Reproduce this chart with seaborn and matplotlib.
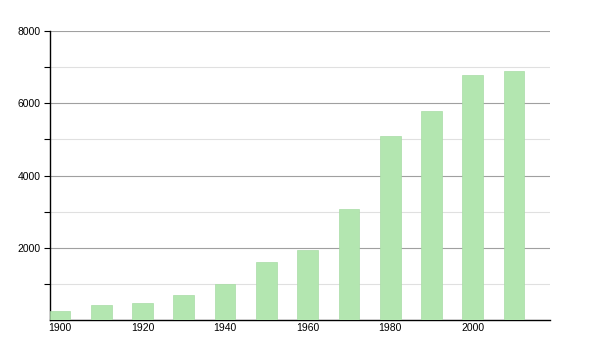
import matplotlib
matplotlib.use("Agg")
import matplotlib.pyplot as plt
import seaborn as sns
import pandas as pd
from matplotlib.ticker import FixedLocator

years = [1900, 1910, 1920, 1930, 1940, 1950, 1960, 1970, 1980, 1990, 2000, 2010]
population = [240, 415, 480, 690, 1000, 1600, 1940, 3070, 5090, 5790, 6780, 6890]
x_ticks = [1900, 1920, 1940, 1960, 1980, 2000]
y_ticks = [2000, 4000, 6000, 8000]
y_minor = [1000, 3000, 5000, 7000]

sns.set_style("white")
plt.rcParams['font.family'] = ['Liberation Sans', 'DejaVu Sans']

df = pd.DataFrame({"year": years, "pop": population})

fig = plt.figure(figsize=(6, 3.5), dpi=100)
ax = fig.add_axes([50/600, 30/350, 500/600, 289/350])

sns.barplot(data=df, x="year", y="pop", native_scale=True, width=0.5,
            color="#b3e6b0", edgecolor="#a8dca5", linewidth=0.5, saturation=1,
            ax=ax, zorder=3)

ax.set_xlim(1897.6, 2018.7)
ax.set_ylim(0, 8000)
ax.yaxis.set_major_locator(FixedLocator(y_ticks))
ax.yaxis.set_minor_locator(FixedLocator(y_minor))
ax.xaxis.set_major_locator(FixedLocator(x_ticks))
ax.grid(axis="y", which="major", color="#a0a0a0", linewidth=0.8, zorder=0)
ax.grid(axis="y", which="minor", color="#e0e0e0", linewidth=0.8, zorder=0)
ax.set_axisbelow(True)

for s in ["top", "right"]:
    ax.spines[s].set_visible(False)
for s in ["left", "bottom"]:
    ax.spines[s].set_color("black")
    ax.spines[s].set_linewidth(1.0)

ax.tick_params(axis="y", which="major", length=4, width=0.8, color="black",
               labelsize=7.5, labelcolor="black", pad=3, left=True)
ax.tick_params(axis="y", which="minor", length=4, width=0.8, color="black", left=True)
ax.tick_params(axis="x", length=0, labelsize=7.5, labelcolor="black", pad=2)
ax.set_xlabel("")
ax.set_ylabel("")

fig.savefig("out.png", dpi=100)
